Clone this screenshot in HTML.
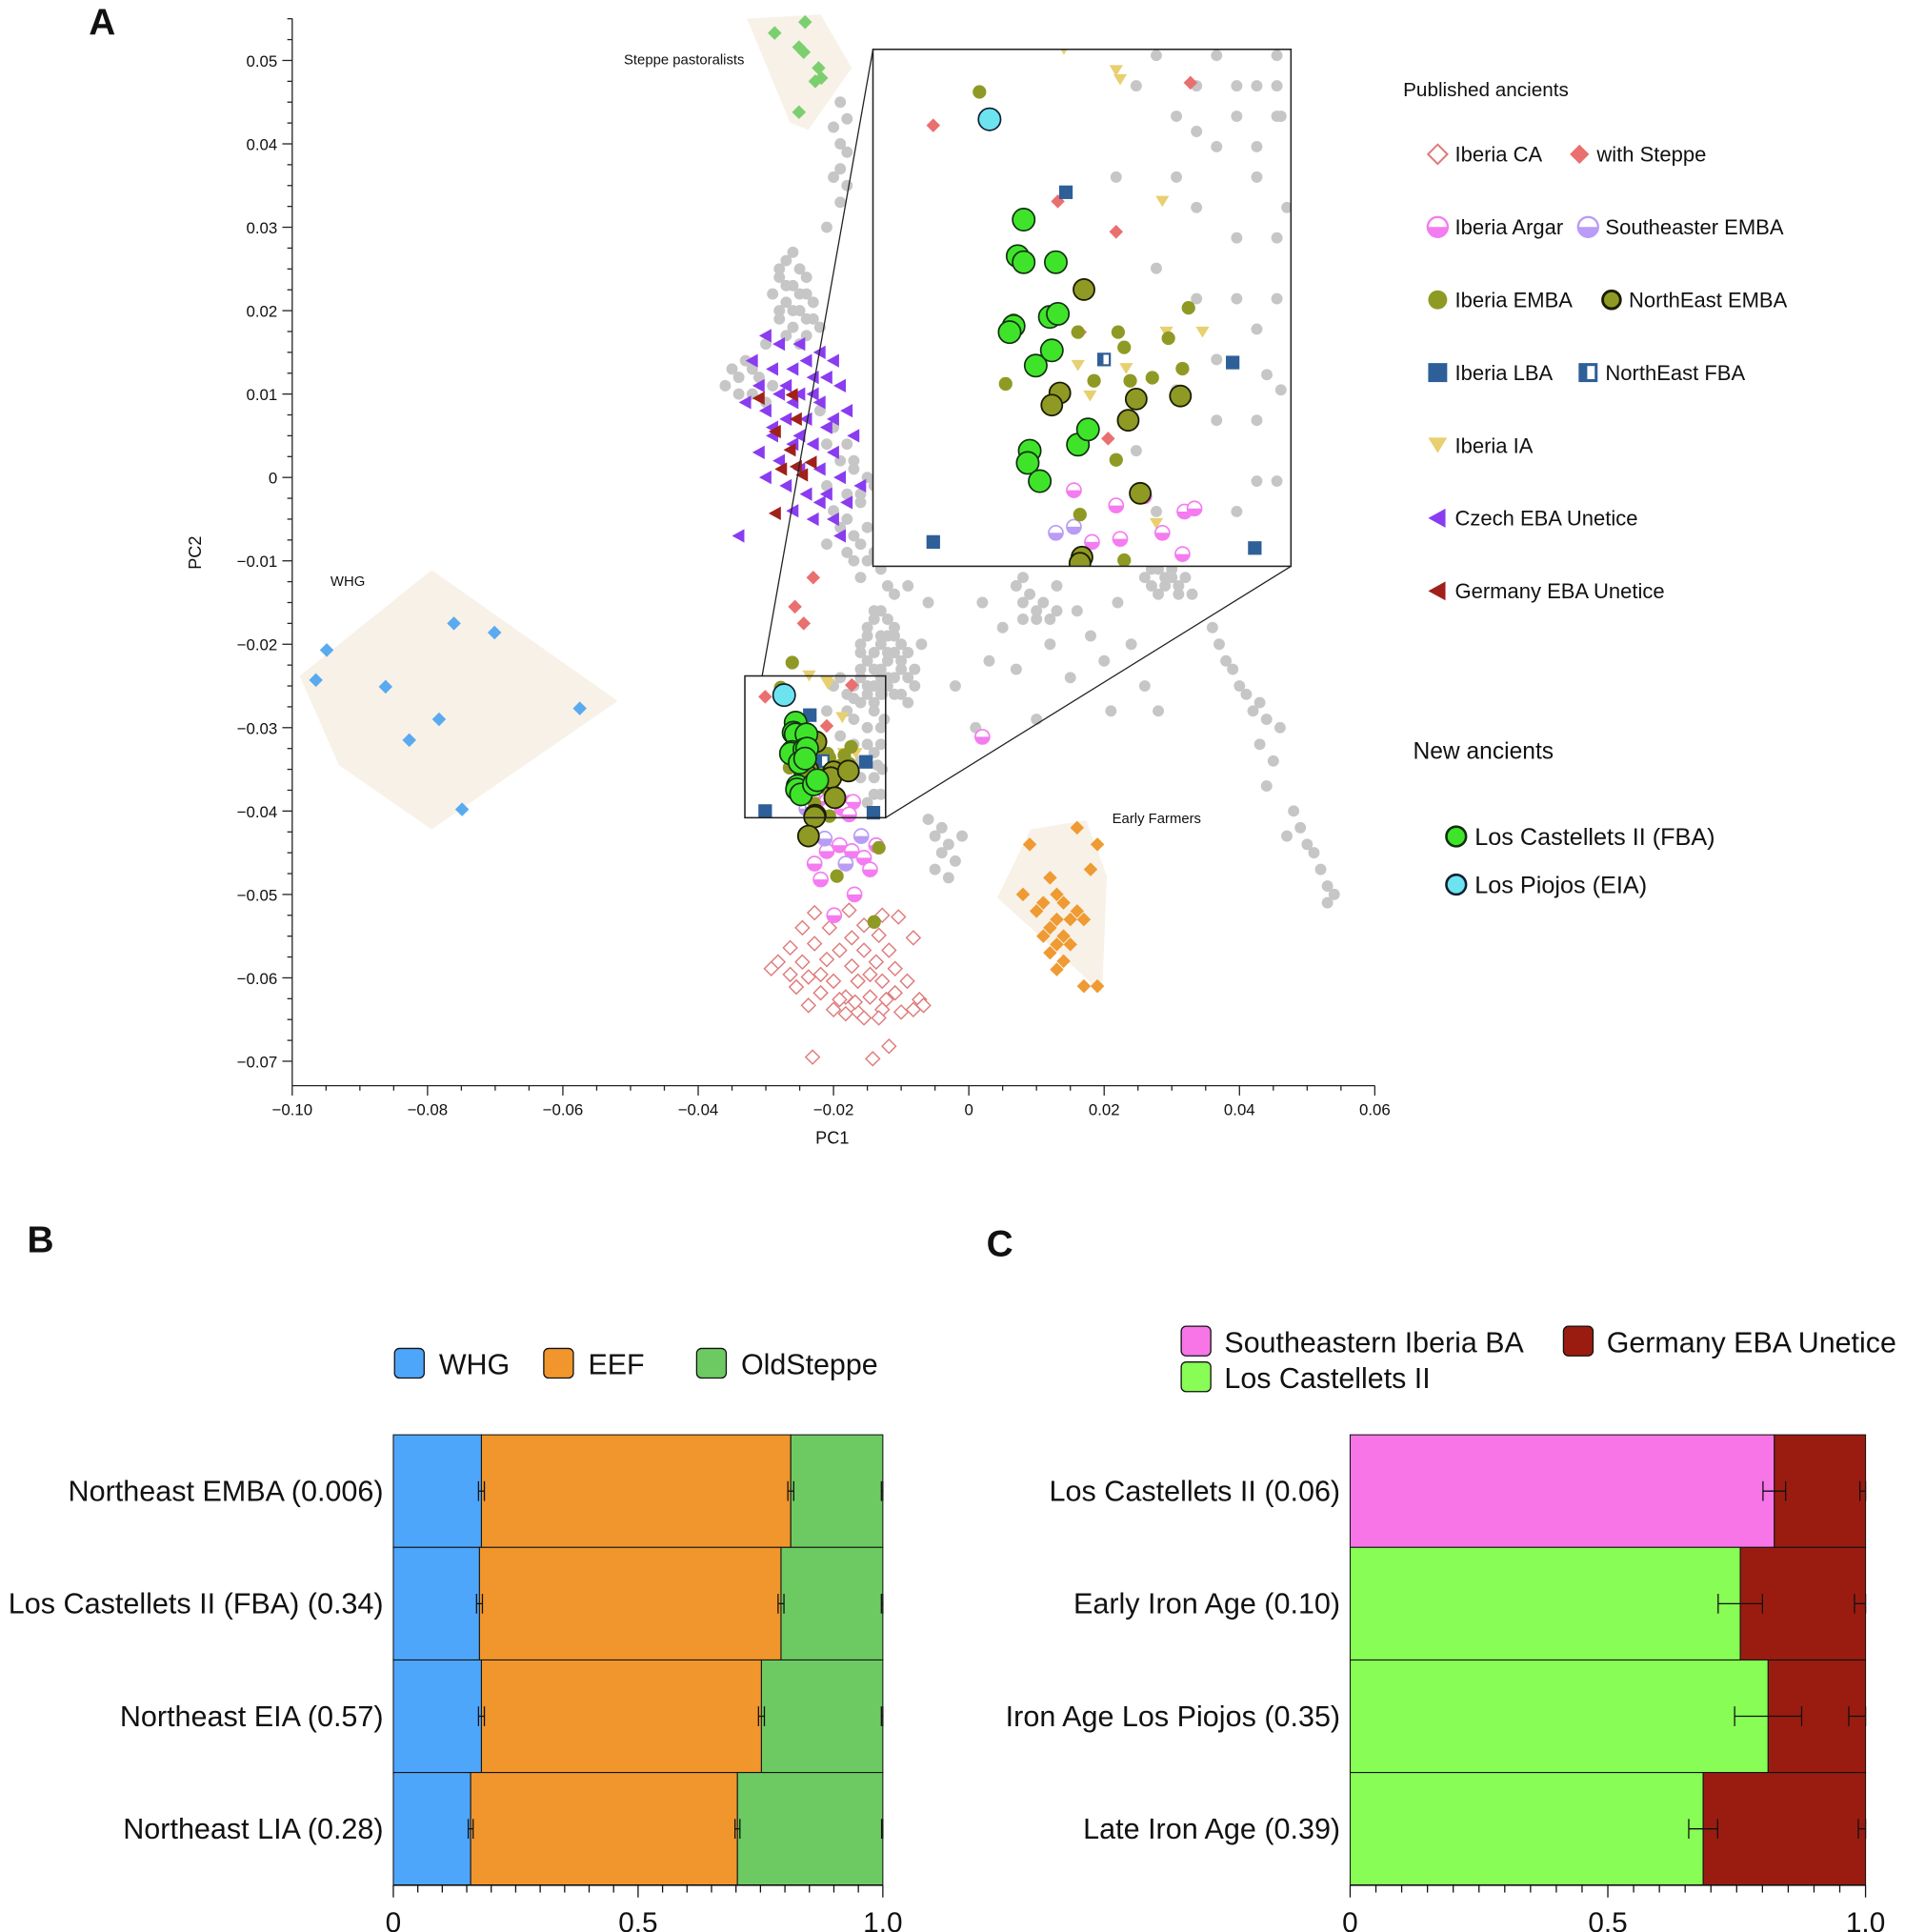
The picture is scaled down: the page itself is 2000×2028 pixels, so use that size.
<!DOCTYPE html>
<html><head><meta charset="utf-8"><style>
html,body{margin:0;padding:0;background:#fff}
svg{display:block}
text{font-family:"Liberation Sans",Arial,sans-serif;fill:#111}
</style></head><body>
<svg id="fig" xmlns="http://www.w3.org/2000/svg" width="2000" height="2028" viewBox="0 0 1545 1566" preserveAspectRatio="none">
<defs><clipPath id="insetClip"><rect x="708" y="40" width="339" height="419"/></clipPath></defs>
<text x="72" y="28" font-size="30" font-weight="bold">A</text>
<text x="22" y="1015" font-size="30" font-weight="bold">B</text>
<text x="800" y="1018" font-size="30" font-weight="bold">C</text>
<g id="pca"></g>
<g id="legendA"></g>
<g id="barB"></g>
<g id="barC"></g>
</svg>
<script>
// ===== Panel A data =====
const xTicksA=[-0.10,-0.08,-0.06,-0.04,-0.02,0,0.02,0.04,0.06];
const xTickLabelsA=["−0.10","−0.08","−0.06","−0.04","−0.02","0","0.02","0.04","0.06"];
const yTicksA=[0.05,0.04,0.03,0.02,0.01,0,-0.01,-0.02,-0.03,-0.04,-0.05,-0.06,-0.07];
const yTickLabelsA=["0.05","0.04","0.03","0.02","0.01","0","−0.01","−0.02","−0.03","−0.04","−0.05","−0.06","−0.07"];
const hullWHG=[[-0.0989,-0.0238],[-0.0794,-0.0111],[-0.0519,-0.0268],[-0.0794,-0.0422],[-0.0931,-0.0345]];
const hullSteppe=[[-0.0328,0.055],[-0.0219,0.0555],[-0.0173,0.0491],[-0.0237,0.0417],[-0.0264,0.0425]];
const hullEF=[[0.0091,-0.0422],[0.0173,-0.0411],[0.0204,-0.0478],[0.0197,-0.0618],[0.0128,-0.0567],[0.0042,-0.0504]];
const grayPts=[[-0.019,0.045],[-0.018,0.043],[-0.020,0.042],[-0.019,0.040],[-0.018,0.039],[-0.019,0.037],[-0.020,0.036],[-0.018,0.035],[-0.019,0.033],[-0.021,0.030],
[-0.027,0.026],[-0.025,0.025],[-0.028,0.024],[-0.026,0.023],[-0.024,0.022],[-0.029,0.022],[-0.027,0.021],[-0.025,0.020],[-0.023,0.019],[-0.028,0.019],[-0.026,0.018],[-0.024,0.017],[-0.030,0.016],[-0.033,0.014],[-0.035,0.013],[-0.031,0.012],[-0.029,0.011],[-0.034,0.010],[-0.022,0.008],[-0.020,0.006],[-0.018,0.004],[-0.019,0.002],[-0.017,0.001],[-0.021,-0.001],[-0.018,-0.002],[-0.016,-0.003],[-0.020,-0.004],[-0.019,-0.006],[-0.017,-0.007],[-0.021,-0.008],[-0.018,-0.009],[-0.015,-0.010],[-0.016,-0.012],
[-0.026,0.027],[-0.028,0.025],[-0.024,0.024],[-0.027,0.023],[-0.025,0.022],[-0.023,0.021],[-0.026,0.020],[-0.028,0.020],[-0.024,0.019],[-0.022,0.018],[-0.027,0.017],[-0.025,0.016],[-0.032,0.013],[-0.034,0.012],[-0.036,0.011],[-0.032,0.010],[-0.030,0.009],[-0.021,0.004],[-0.017,0.002],[-0.015,0.000],[-0.016,-0.002],[-0.014,-0.001],[-0.018,-0.005],[-0.015,-0.006],[-0.016,-0.008],[-0.014,-0.009],[-0.013,-0.011],[-0.017,-0.010],[-0.012,-0.013],[-0.011,-0.014],
[-0.014,-0.016],[-0.012,-0.017],[-0.015,-0.018],[-0.013,-0.019],[-0.011,-0.019],[-0.016,-0.020],[-0.014,-0.021],[-0.012,-0.021],[-0.010,-0.022],[-0.015,-0.022],[-0.013,-0.023],[-0.011,-0.024],[-0.009,-0.024],[-0.014,-0.025],[-0.012,-0.025],[-0.010,-0.026],[-0.008,-0.023],[-0.007,-0.020],[-0.006,-0.015],[-0.009,-0.013],
[-0.013,-0.016],[-0.011,-0.018],[-0.014,-0.017],[-0.012,-0.019],[-0.010,-0.020],[-0.015,-0.019],[-0.013,-0.020],[-0.011,-0.021],[-0.009,-0.021],[-0.016,-0.021],[-0.012,-0.022],[-0.010,-0.023],[-0.014,-0.023],[-0.012,-0.024],[-0.008,-0.025],[-0.013,-0.026],[-0.011,-0.026],[-0.009,-0.027],[-0.015,-0.026],[-0.016,-0.023],
[-0.006,-0.041],[-0.004,-0.042],[-0.005,-0.043],[-0.003,-0.044],[-0.004,-0.045],[-0.002,-0.046],[-0.005,-0.047],[-0.003,-0.048],[-0.001,-0.043],
[0.002,-0.015],[0.005,-0.018],[0.008,-0.012],[0.010,-0.017],[0.012,-0.020],[0.007,-0.023],[0.013,-0.013],[0.016,-0.016],[0.018,-0.019],[0.020,-0.022],[0.015,-0.024],[0.022,-0.015],[0.024,-0.020],[0.026,-0.025],[0.028,-0.028],[0.021,-0.028],[0.003,-0.022],[-0.002,-0.025],[0.001,-0.030],[0.010,-0.029],
[0.007,-0.013],[0.008,-0.015],[0.009,-0.014],[0.010,-0.016],[0.011,-0.015],[0.012,-0.017],[0.008,-0.017],[0.013,-0.016],[0.026,-0.012],[0.027,-0.011],[0.030,-0.011],[0.031,-0.014],[0.028,-0.014],[0.029,-0.013],
[0.028,-0.011],[0.029,-0.012],[0.030,-0.012],[0.031,-0.013],[0.032,-0.012],[0.027,-0.013],[0.033,-0.014],
[0.036,-0.018],[0.037,-0.020],[0.038,-0.022],[0.039,-0.023],[0.040,-0.025],[0.041,-0.026],[0.042,-0.028],[0.043,-0.027],[0.044,-0.029],[0.046,-0.030],[0.043,-0.032],[0.045,-0.034],[0.044,-0.037],[0.048,-0.040],[0.049,-0.042],[0.050,-0.044],[0.051,-0.045],[0.052,-0.047],[0.053,-0.049],[0.054,-0.050],[0.053,-0.051],[0.047,-0.043],
[-0.020,-0.025],[-0.018,-0.026],[-0.016,-0.024],[-0.014,-0.027],[-0.013,-0.025],[-0.017,-0.029],[-0.015,-0.030],[-0.019,-0.031],[-0.013,-0.032],[-0.016,-0.034],[-0.014,-0.036],[-0.018,-0.035],[-0.020,-0.037],[-0.013,-0.038],[-0.015,-0.039],[-0.021,-0.028],[-0.0125,-0.029],[-0.0135,-0.0345],[-0.017,-0.0265],
[-0.019,-0.024],[-0.017,-0.025],[-0.015,-0.025],[-0.013,-0.024],[-0.0128,-0.026],[-0.014,-0.028],[-0.016,-0.027],[-0.018,-0.028],[-0.013,-0.030],[-0.015,-0.032],[-0.017,-0.032],[-0.014,-0.033],[-0.0128,-0.035],[-0.016,-0.036],[-0.014,-0.038],[-0.019,-0.039]];
const whgPts=[[-0.0949,-0.0207],[-0.0965,-0.0243],[-0.0862,-0.0251],[-0.0761,-0.0175],[-0.0701,-0.0186],[-0.0783,-0.029],[-0.0827,-0.0315],[-0.0575,-0.0277],[-0.0749,-0.0398]];
const steppePts=[[-0.0287,0.0533],[-0.0242,0.0546],[-0.0251,0.0516],[-0.0244,0.051],[-0.0222,0.0491],[-0.0227,0.0475],[-0.0218,0.0479],[-0.0251,0.0438]];
const efPts=[[0.016,-0.042],[0.009,-0.044],[0.019,-0.044],[0.018,-0.047],[0.012,-0.048],[0.008,-0.050],[0.013,-0.050],[0.011,-0.051],[0.014,-0.051],[0.016,-0.052],[0.010,-0.052],[0.013,-0.053],[0.015,-0.053],[0.012,-0.054],[0.014,-0.055],[0.017,-0.053],[0.011,-0.055],[0.013,-0.056],[0.015,-0.056],[0.012,-0.057],[0.014,-0.058],[0.013,-0.059],[0.017,-0.061],[0.019,-0.061]];
const iberiaCAPts=[[-0.0228,-0.0522],[-0.0177,-0.0519],[-0.0128,-0.0525],[-0.0104,-0.0527],[-0.0246,-0.0540],[-0.0206,-0.0540],[-0.0155,-0.0537],[-0.0173,-0.0552],[-0.0133,-0.0549],[-0.0082,-0.0552],[-0.0264,-0.0564],[-0.0228,-0.0559],[-0.0191,-0.0567],[-0.0155,-0.0567],[-0.0118,-0.0567],[-0.0282,-0.0581],[-0.0246,-0.0581],[-0.0210,-0.0578],[-0.0173,-0.0586],[-0.0137,-0.0581],[-0.0109,-0.0589],[-0.0292,-0.0589],[-0.0237,-0.0599],[-0.0200,-0.0604],[-0.0164,-0.0604],[-0.0128,-0.0604],[-0.0091,-0.0604],[-0.0255,-0.0611],[-0.0219,-0.0618],[-0.0182,-0.0623],[-0.0146,-0.0623],[-0.0109,-0.0618],[-0.0073,-0.0626],[-0.0237,-0.0633],[-0.0200,-0.0638],[-0.0164,-0.0641],[-0.0128,-0.0638],[-0.0082,-0.0638],[-0.0155,-0.0648],[-0.0182,-0.0643],[-0.0133,-0.0648],[-0.0118,-0.0682],[-0.0231,-0.0695],[-0.0142,-0.0697],[-0.0219,-0.0596],[-0.0146,-0.0596],[-0.0264,-0.0596],[-0.0122,-0.0626],[-0.0100,-0.0641],[-0.0067,-0.0633],[-0.0191,-0.0626],[-0.0168,-0.0629]];
const withSteppePts=[[-0.0301,-0.0263],[-0.0257,-0.0155],[-0.0230,-0.0120],[-0.0244,-0.0175],[-0.0173,-0.0249],[-0.0210,-0.0298],[-0.0239,-0.0288],[-0.0214,-0.0366],[-0.0228,-0.0331]];
const argarPts=[[-0.0231,-0.0383],[-0.0210,-0.0388],[-0.0196,-0.0385],[-0.0176,-0.0390],[-0.0171,-0.0389],[-0.0222,-0.0400],[-0.0208,-0.0399],[-0.0187,-0.0397],[-0.0177,-0.0404],[-0.0228,-0.0463],[-0.0210,-0.0448],[-0.0191,-0.0441],[-0.0173,-0.0448],[-0.0155,-0.0456],[-0.0219,-0.0482],[-0.0169,-0.0500],[-0.0146,-0.0470],[-0.0137,-0.0441],[-0.0199,-0.0525],[0.0020,-0.0311]];
const seEmbaPts=[[-0.0240,-0.0397],[-0.0231,-0.0395],[-0.0213,-0.0433],[-0.0182,-0.0463],[-0.0159,-0.0430]];
const iberiaEmbaPts=[[-0.0278,-0.0252],[-0.0261,-0.0327],[-0.0265,-0.0348],[-0.0229,-0.0331],[-0.0209,-0.0331],[-0.0206,-0.0336],[-0.0203,-0.0347],[-0.0192,-0.0346],[-0.0184,-0.0333],[-0.0174,-0.0323],[-0.0177,-0.0343],[-0.0221,-0.0347],[-0.0210,-0.0373],[-0.0228,-0.0391],[-0.0206,-0.0406],[-0.0261,-0.0222],[-0.0133,-0.0444],[-0.0195,-0.0478],[-0.0140,-0.0533]];
const neEmbaPts=[[-0.0226,-0.0317],[-0.0238,-0.0351],[-0.0242,-0.0355],[-0.0200,-0.0353],[-0.0204,-0.0360],[-0.0178,-0.0352],[-0.0198,-0.0384],[-0.0227,-0.0405],[-0.0228,-0.0407],[-0.0237,-0.0430]];
const iberiaLbaPts=[[-0.0235,-0.0285],[-0.0152,-0.0341],[-0.0301,-0.0400],[-0.0141,-0.0402]];
const neFbaPts=[[-0.0216,-0.0340]];
const iberiaIaPts=[[-0.0236,-0.0238],[-0.0208,-0.0248],[-0.0187,-0.0288],[-0.0167,-0.0331],[-0.0229,-0.0342],[-0.0223,-0.0352],[-0.0205,-0.0343],[-0.0185,-0.0331],[-0.0190,-0.0394],[-0.0210,-0.0245]];
const czechPts=[[-0.030,0.017],[-0.028,0.016],[-0.025,0.016],[-0.022,0.015],[-0.032,0.014],[-0.029,0.013],[-0.026,0.013],[-0.023,0.012],[-0.020,0.014],[-0.031,0.011],[-0.028,0.010],[-0.025,0.010],[-0.022,0.009],[-0.019,0.011],[-0.033,0.009],[-0.030,0.008],[-0.027,0.007],[-0.024,0.007],[-0.021,0.006],[-0.018,0.008],[-0.029,0.005],[-0.026,0.004],[-0.023,0.004],[-0.020,0.003],[-0.017,0.005],[-0.031,0.003],[-0.028,0.002],[-0.025,0.001],[-0.022,0.001],[-0.019,0.000],[-0.030,0.000],[-0.027,-0.001],[-0.024,-0.002],[-0.021,-0.002],[-0.016,-0.001],[-0.026,-0.004],[-0.023,-0.005],[-0.020,-0.005],[-0.018,-0.003],[-0.034,-0.007],[-0.024,0.014],[-0.027,0.011],[-0.021,0.012],[-0.026,0.009],[-0.023,0.010],[-0.029,0.006],[-0.020,0.007],[-0.025,0.005],[-0.022,-0.003],[-0.019,-0.007]];
const germanyPts=[[-0.0310,0.0095],[-0.0286,0.0055],[-0.0261,0.0099],[-0.0255,0.0070],[-0.0277,0.0010],[-0.0255,0.0013],[-0.0246,0.0003],[-0.0286,-0.0043],[-0.0233,0.0018],[-0.0264,0.0033]];
const castelletsPts=[[-0.0256,-0.0294],[-0.0259,-0.0306],[-0.0256,-0.0308],[-0.0240,-0.0308],[-0.0261,-0.0329],[-0.0263,-0.0331],[-0.0243,-0.0326],[-0.0239,-0.0325],[-0.0250,-0.0342],[-0.0242,-0.0337],[-0.0253,-0.0370],[-0.0254,-0.0374],[-0.0248,-0.0380],[-0.0229,-0.0368],[-0.0224,-0.0363]];
const piojosPts=[[-0.0273,-0.0261]];
const zoomBoxPC1=[-0.0331,-0.0123];
const zoomBoxPC2=[-0.0408,-0.0238];

const NS="http://www.w3.org/2000/svg";
function E(tag,attrs,parent){const e=document.createElementNS(NS,tag);for(const k in attrs)e.setAttribute(k,attrs[k]);parent.appendChild(e);return e;}
const X=v=>237+(v+0.10)*5487.5;
const Y=v=>387-v*6760;
const IX=v=>708+(v-zoomBoxPC1[0])/(zoomBoxPC1[1]-zoomBoxPC1[0])*339;
const IY=v=>40+(zoomBoxPC2[1]-v)/(zoomBoxPC2[1]-zoomBoxPC2[0])*419;

function marker(g,type,cx,cy){
  let el;
  if(type==='gray'){el=E('circle',{cx,cy,r:4.6,fill:'#c6c6c6'},g);}
  else if(type==='diaBlue'||type==='diaGreen'||type==='diaOrange'||type==='diaRed'){
    const c={diaBlue:'#5aaaf0',diaGreen:'#7ccf6e',diaOrange:'#ef9a32',diaRed:'#ea6f6f'}[type];
    el=E('polygon',{points:`${cx},${cy-5.6} ${cx+5.6},${cy} ${cx},${cy+5.6} ${cx-5.6},${cy}`,fill:c},g);}
  else if(type==='diaOpen'){el=E('polygon',{points:`${cx},${cy-5.6} ${cx+5.6},${cy} ${cx},${cy+5.6} ${cx-5.6},${cy}`,fill:'#fff',stroke:'#e07a7a','stroke-width':1.1},g);}
  else if(type==='halfPink'||type==='halfLav'){
    const c=type==='halfPink'?'#f47cf0':'#b99cf5';
    el=E('g',{},g);
    E('circle',{cx,cy,r:5.8,fill:'#fff',stroke:c,'stroke-width':1.3},el);
    E('path',{d:`M${cx-5.8},${cy} A5.8,5.8 0 0 0 ${cx+5.8},${cy} Z`,fill:c},el);}
  else if(type==='olive'){el=E('circle',{cx,cy,r:5.5,fill:'#8f9a25'},g);}
  else if(type==='oliveBig'){el=E('circle',{cx,cy,r:8.5,fill:'#8f9a25',stroke:'#1c1c00','stroke-width':1.4},g);}
  else if(type==='green'){el=E('circle',{cx,cy,r:9,fill:'#3fe42a',stroke:'#103010','stroke-width':1.3},g);}
  else if(type==='cyan'){el=E('circle',{cx,cy,r:9,fill:'#6de3f0',stroke:'#102030','stroke-width':1.3},g);}
  else if(type==='sqBlue'){el=E('rect',{x:cx-5.5,y:cy-5.5,width:11,height:11,fill:'#2e5f98'},g);}
  else if(type==='sqHalf'){el=E('g',{},g);E('rect',{x:cx-5.5,y:cy-5.5,width:11,height:11,fill:'#2e5f98'},el);E('rect',{x:cx-0.5,y:cy-3.8,width:4.3,height:7.6,fill:'#fff'},el);}
  else if(type==='triY'){el=E('polygon',{points:`${cx-5.5},${cy-4.5} ${cx+5.5},${cy-4.5} ${cx},${cy+4.5}`,fill:'#e8cf70'},g);}
  else if(type==='triPurple'){el=E('polygon',{points:`${cx-5.5},${cy} ${cx+4.5},${cy-5.5} ${cx+4.5},${cy+5.5}`,fill:'#8a3cf0'},g);}
  else if(type==='triRed'){el=E('polygon',{points:`${cx-5.5},${cy} ${cx+4.5},${cy-5.5} ${cx+4.5},${cy+5.5}`,fill:'#a0201a'},g);}
  return el;
}
const series=[
 ['gray-points','gray',grayPts],['whg-points','diaBlue',whgPts],['steppe-points','diaGreen',steppePts],['early-farmer-points','diaOrange',efPts],
 ['iberia-ca-points','diaOpen',iberiaCAPts],['czech-eba-points','triPurple',czechPts],['germany-eba-points','triRed',germanyPts],
 ['with-steppe-points','diaRed',withSteppePts],['iberia-ia-points','triY',iberiaIaPts],['iberia-argar-points','halfPink',argarPts],['se-emba-points','halfLav',seEmbaPts],
 ['iberia-emba-points','olive',iberiaEmbaPts],['iberia-lba-points','sqBlue',iberiaLbaPts],['ne-fba-points','sqHalf',neFbaPts],
 ['ne-emba-points','oliveBig',neEmbaPts],['castellets-points','green',castelletsPts],['piojos-points','cyan',piojosPts]];

const pca=document.getElementById('pca');
[['whg-hull',hullWHG],['steppe-hull',hullSteppe],['early-farmer-hull',hullEF]].forEach(([n,h])=>{
  const p=E('polygon',{points:h.map(d=>X(d[0])+','+Y(d[1])).join(' '),fill:'#f7efe4',opacity:0.85},pca);
  
  
});
const ax=E('g',{},pca);


E('line',{x1:237,y1:15,x2:237,y2:880,stroke:'#222','stroke-width':1},ax);
E('line',{x1:237,y1:880,x2:1115,y2:880,stroke:'#222','stroke-width':1},ax);
for(let v=-0.07;v<=0.0551;v+=0.0025){const y=Y(v);const major=Math.abs(Math.round(v*100)-v*100)<1e-6;E('line',{x1:major?229:233,y1:y,x2:237,y2:y,stroke:'#222','stroke-width':1},ax);}
for(let v=-0.10;v<=0.0601;v+=0.005){const x=X(v);const major=Math.abs(Math.round(v*50)-v*50)<1e-6;E('line',{x1:x,y1:880,x2:x,y2:major?888:884,stroke:'#222','stroke-width':1},ax);}
xTicksA.forEach((v,i)=>{const t=E('text',{x:X(v),y:904,'font-size':13,'text-anchor':'middle'},ax);t.textContent=xTickLabelsA[i];
 
 });
yTicksA.forEach((v,i)=>{const t=E('text',{x:225,y:Y(v)+5,'font-size':13,'text-anchor':'end'},ax);t.textContent=yTickLabelsA[i];
 
 });
let tl=E('text',{x:675,y:927,'font-size':14,'text-anchor':'middle'},ax);tl.textContent='PC1';


tl=E('text',{x:163,y:448,'font-size':14,'text-anchor':'middle',transform:'rotate(-90 163 448)'},ax);tl.textContent='PC2';


[['Steppe pastoralists',506,52,'steppe-label'],['WHG',268,475,'whg-label'],['Early Farmers',902,667,'early-farmers-label']].forEach(([s,x,y,n])=>{
 const t=E('text',{x,y,'font-size':11.5},pca);t.textContent=s;
 
 });
series.forEach(([n,type,pts])=>{const g=E('g',{},pca);
 
 
 pts.forEach(d=>marker(g,type,X(d[0]),Y(d[1])));});
const zb=E('rect',{x:X(zoomBoxPC1[0]),y:Y(zoomBoxPC2[1]),width:X(zoomBoxPC1[1])-X(zoomBoxPC1[0]),height:Y(zoomBoxPC2[0])-Y(zoomBoxPC2[1]),fill:'none',stroke:'#222','stroke-width':1.2},pca);


E('line',{x1:X(zoomBoxPC1[0])+14,y1:Y(zoomBoxPC2[1]),x2:708,y2:40,stroke:'#222','stroke-width':1},pca);
E('line',{x1:X(zoomBoxPC1[1]),y1:Y(zoomBoxPC2[0]),x2:1047,y2:459,stroke:'#222','stroke-width':1},pca);
const inset=E('g',{'clip-path':'url(#insetClip)'},pca);


E('rect',{x:708,y:40,width:339,height:419,fill:'#fff'},inset);
series.forEach(([n,type,pts])=>{const g=E('g',{},inset);
 
 
 pts.forEach(d=>marker(g,type,IX(d[0]),IY(d[1])));});
E('rect',{x:708,y:40,width:339,height:419,fill:'none',stroke:'#222','stroke-width':1.2},pca);

// legend A
const lg=document.getElementById('legendA');
let t=E('text',{x:1138,y:78,'font-size':16},lg);t.textContent='Published ancients';


const legItems=[['diaOpen',1166,125,'Iberia CA'],['diaRed',1281,125,'with Steppe'],['halfPink',1166,184,'Iberia Argar'],['halfLav',1288,184,'Southeaster EMBA'],
['olive',1166,243,'Iberia EMBA'],['oliveBig',1307,243,'NorthEast EMBA'],['sqBlue',1166,302,'Iberia LBA'],['sqHalf',1288,302,'NorthEast FBA'],
['triY',1166,361,'Iberia IA'],['triPurple',1166,420,'Czech EBA Unetice'],['triRed',1166,479,'Germany EBA Unetice']];
legItems.forEach(([ty,x,y,s])=>{const g=E('g',{},lg);
 
 
 const mg=E('g',{transform:`translate(${x},${y}) scale(${ty==='oliveBig'?0.85:1.4}) translate(${-x},${-y})`},g);
 const m=marker(mg,ty,x,y); if(ty==='oliveBig'){m.setAttribute('stroke-width',2.6);}
 const tx=E('text',{x:x+14,y:y+6,'font-size':17},g);tx.textContent=s;});
t=E('text',{x:1146,y:615,'font-size':19},lg);t.textContent='New ancients';


[['green',1181,678,'Los Castellets II (FBA)'],['cyan',1181,717,'Los Piojos (EIA)']].forEach(([ty,x,y,s])=>{const g=E('g',{},lg);
 
 
 const m=marker(g,ty,x,y);m.setAttribute('r',8);m.setAttribute('stroke-width',2);
 const tx=E('text',{x:x+15,y:y+7,'font-size':19.5},g);tx.textContent=s;});

// ===== Panel B =====
const bCategories=["Northeast EMBA (0.006)","Los Castellets II (FBA) (0.34)","Northeast EIA (0.57)","Northeast LIA (0.28)"];
const bWHG=[0.180,0.176,0.180,0.158];
const bEEF=[0.632,0.616,0.572,0.545];
const bSteppe=[0.188,0.208,0.248,0.297];
const bErr=[0.006,0.006,0.006,0.005];
const bSeries=["WHG","EEF","OldSteppe"];
const bColors=["#4ea6fb","#f0962c","#6dca63"];
const axisTicks=[0,0.5,1.0];
const axisTickLabels=["0","0.5","1.0"];
// ===== Panel C =====
const cCategories=["Los Castellets II (0.06)","Early Iron Age (0.10)","Iron Age Los Piojos (0.35)","Late Iron Age (0.39)"];
const cFirst=[0.823,0.757,0.811,0.685];
const cGermany=[0.177,0.243,0.189,0.315];
const cFirstColor=["#f775e7","#87fd55","#87fd55","#87fd55"];
const cErr=[0.022,0.043,0.065,0.028];

function barPanel(gid,x0,x1,cats,stacks,colors,errs,labelX){
 const g=document.getElementById(gid);
 const S=v=>x0+v*(x1-x0);
 const top=1163,h=91.25;
 cats.forEach((c,i)=>{
  let acc=0;const yy=top+i*h;
  stacks.forEach((arr,k)=>{
   const col=Array.isArray(colors[k])?colors[k][i]:colors[k];
   const r=E('rect',{x:S(acc),y:yy,width:S(acc+arr[i])-S(acc),height:h,fill:col,stroke:'#111','stroke-width':0.8},g);
   
   
   acc+=arr[i];
  });
  let b=0;const cy=yy+h/2;
  stacks.forEach((arr,k)=>{b+=arr[i];const e=(k===stacks.length-1)?errs[i]*0.5:errs[i];
   const xa=S(Math.max(0,b-e)),xb=S(Math.min(1.0,b+e));
   E('line',{x1:xa,y1:cy,x2:xb,y2:cy,stroke:'#111','stroke-width':1},g);
   E('line',{x1:xa,y1:cy-8,x2:xa,y2:cy+8,stroke:'#111','stroke-width':1},g);
   E('line',{x1:xb,y1:cy-8,x2:xb,y2:cy+8,stroke:'#111','stroke-width':1},g);});
  const tx=E('text',{x:labelX,y:cy+8,'font-size':23.6,'text-anchor':'end'},g);tx.textContent=c;
  
  
 });
 const by=top+4*h;
 E('line',{x1:x0,y1:by,x2:x1,y2:by,stroke:'#111','stroke-width':1.2},g);
 for(let v=0;v<=1.0001;v+=0.05){const mj=Math.abs(v*2-Math.round(v*2))<1e-6;E('line',{x1:S(v),y1:by,x2:S(v),y2:by+(mj?10:6),stroke:'#111','stroke-width':1},g);}
 axisTicks.forEach((v,i)=>{const tt=E('text',{x:S(v),y:1566,'font-size':23,'text-anchor':'middle'},g);tt.textContent=axisTickLabels[i];
  
  });
}
barPanel('barB',319,716,bCategories,[bWHG,bEEF,bSteppe],bColors,bErr,311);
barPanel('barC',1095,1513,cCategories,[cFirst,cGermany],[cFirstColor,'#9a1c10'],cErr,1087);
const gB=document.getElementById('barB');
[[320,1093,0,'WHG'],[441,1093,1,'EEF'],[565,1093,2,'OldSteppe']].forEach(([x,y,k,s])=>{const g=E('g',{},gB);
 
 
 E('rect',{x,y,width:24,height:24,rx:4,fill:bColors[k],stroke:'#111','stroke-width':1},g);
 const tx=E('text',{x:x+36,y:y+21,'font-size':23.5},g);tx.textContent=s;});
const gC=document.getElementById('barC');
[[958,1075,'#f775e7','Southeastern Iberia BA'],[1268,1075,'#9a1c10','Germany EBA Unetice'],[958,1104,'#87fd55','Los Castellets II']].forEach(([x,y,c,s])=>{const g=E('g',{},gC);
 
 
 E('rect',{x,y,width:24,height:24,rx:4,fill:c,stroke:'#111','stroke-width':1},g);
 const tx=E('text',{x:x+35,y:y+21,'font-size':23.5},g);tx.textContent=s;});
</script>
</body></html>
